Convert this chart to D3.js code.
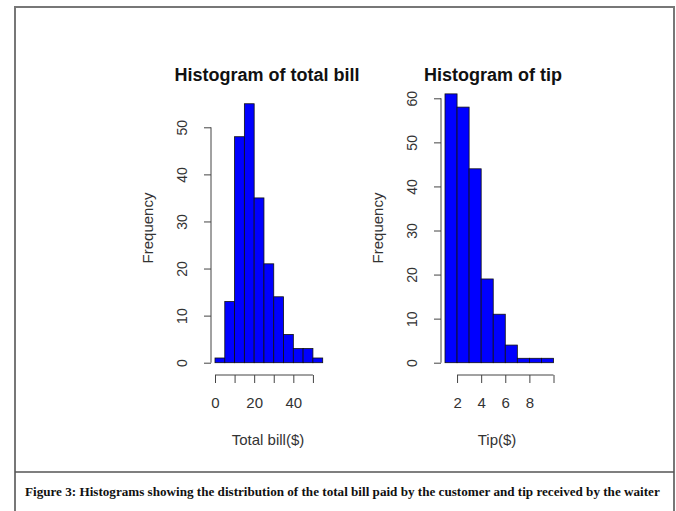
<!DOCTYPE html>
<html>
<head>
<meta charset="utf-8">
<script src="https://cdn.jsdelivr.net/npm/d3@7"></script>
<style>
  body { margin: 0; background: #fff; }
  svg { display: block; }
</style>
</head>
<body>
<svg id="fig" width="676" height="511"></svg>
<script>
// total bill histogram (bins of 5 from 0 to 55)
var billBreaks = [0, 5, 10, 15, 20, 25, 30, 35, 40, 45, 50, 55];
var billCounts = [1, 13, 48, 55, 35, 21, 14, 6, 3, 3, 1];
var billXTicks = [0, 10, 20, 30, 40, 50];
var billXLabels = ['0', '', '20', '', '40', ''];
var billYTicks = [0, 10, 20, 30, 40, 50];

// tip histogram (bins of 1 from 1 to 10)
var tipBreaks = [1, 2, 3, 4, 5, 6, 7, 8, 9, 10];
var tipCounts = [61, 58, 44, 19, 11, 4, 1, 1, 1];
var tipXTicks = [2, 4, 6, 8, 10];
var tipXLabels = ['2', '4', '6', '8', ''];
var tipYTicks = [0, 10, 20, 30, 40, 50, 60];

var titles = ['Histogram of total bill', 'Histogram of tip'];
var xTitles = ['Total bill($)', 'Tip($)'];
var caption = 'Figure 3: Histograms showing the distribution of the total bill paid by the customer and tip received by the waiter';

var svg = d3.select('#fig');
var axisColor = '#444';
var textColor = '#333';
var sans = 'Liberation Sans, Arial, sans-serif';

// frame round the figure
svg.append('path')
    .attr('d', 'M15,511 L15,7 L674,7 L674,511')
    .attr('fill', 'none')
    .attr('stroke', '#777')
    .attr('stroke-width', 2);

svg.append('line')
    .attr('x1', 15).attr('x2', 674)
    .attr('y1', 472).attr('y2', 472)
    .attr('stroke', '#555')
    .attr('stroke-width', 1.5);

var cap = svg.append('text')
    .attr('x', 25).attr('y', 496)
    .style('font-family', 'Liberation Serif, Times New Roman, serif')
    .style('font-weight', 'bold')
    .style('font-size', '14px')
    .attr('fill', '#111')
    .text(caption);

// I fit the caption to the width it has in the figure
var capWidth = 635;
var natural = cap.node().getComputedTextLength();
if (natural > capWidth) {
    cap.style('font-size', (14 * capWidth / natural).toFixed(2) + 'px');
} else {
    cap.attr('textLength', capWidth).attr('lengthAdjust', 'spacing');
}

var drawHist = function (opts) {

    var g = svg.append('g');
    var x = d3.scaleLinear().domain(opts.xDomain).range(opts.xRange);
    var y = d3.scaleLinear().domain(opts.yDomain).range([362.7, opts.yTop]);

    // I build bins from the breaks and counts
    var bins = opts.counts.map(function (c, i) {
        return { x0: opts.breaks[i], x1: opts.breaks[i + 1], n: c };
    });

    g.selectAll('rect.bar')
        .data(bins)
        .enter().append('rect')
        .attr('class', 'bar')
        .attr('x', function (d) { return x(d.x0); })
        .attr('width', function (d) { return x(d.x1) - x(d.x0); })
        .attr('y', function (d) { return y(d.n); })
        .attr('height', function (d) { return y(0) - y(d.n); })
        .attr('fill', '#0000ff')
        .attr('stroke', '#111')
        .attr('stroke-width', 0.8);

    // x axis, R style: line spans first to last tick
    var xAxis = d3.axisBottom(x)
        .tickValues(opts.xTicks)
        .tickSize(8)
        .tickSizeOuter(0)
        .tickFormat(function (d, i) { return opts.xLabels[i]; });

    var gx = g.append('g')
        .attr('transform', 'translate(0,375)')
        .call(xAxis);
    gx.select('.domain').remove();
    gx.append('line')
        .attr('x1', x(opts.xTicks[0]))
        .attr('x2', x(opts.xTicks[opts.xTicks.length - 1]))
        .attr('stroke', axisColor);
    gx.selectAll('.tick line').attr('stroke', axisColor);
    gx.selectAll('.tick text')
        .attr('y', 22)
        .attr('fill', textColor)
        .style('font-family', sans)
        .style('font-size', '15px');

    // y axis with rotated labels
    var yAxis = d3.axisLeft(y)
        .tickValues(opts.yTicks)
        .tickSize(7)
        .tickSizeOuter(0);

    var gy = g.append('g')
        .attr('transform', 'translate(' + opts.yAxisX + ',0)')
        .call(yAxis);
    gy.select('.domain').remove();
    gy.append('line')
        .attr('y1', y(opts.yTicks[0]))
        .attr('y2', y(opts.yTicks[opts.yTicks.length - 1]))
        .attr('stroke', axisColor);
    gy.selectAll('.tick line').attr('stroke', axisColor);
    gy.selectAll('.tick text')
        .attr('x', 0)
        .attr('dy', null)
        .attr('text-anchor', 'middle')
        .attr('dominant-baseline', 'central')
        .attr('transform', 'translate(-29,0) rotate(-90)')
        .attr('fill', textColor)
        .style('font-family', sans)
        .style('font-size', '14px');

    g.append('text')
        .attr('x', opts.titleX).attr('y', 81)
        .attr('text-anchor', 'middle')
        .style('font-family', sans)
        .style('font-weight', 'bold')
        .style('font-size', '18px')
        .attr('fill', '#111')
        .text(opts.title);

    g.append('text')
        .attr('x', opts.xTitleX).attr('y', 445)
        .attr('text-anchor', 'middle')
        .style('font-family', sans)
        .style('font-size', '15px')
        .attr('fill', textColor)
        .text(opts.xTitle);

    g.append('text')
        .attr('transform', 'translate(' + (opts.yAxisX - 58) + ',228) rotate(-90)')
        .attr('text-anchor', 'middle')
        .style('font-family', sans)
        .style('font-size', '15px')
        .attr('fill', textColor)
        .text('Frequency');
};

drawHist({
    breaks: billBreaks, counts: billCounts,
    xTicks: billXTicks, xLabels: billXLabels, yTicks: billYTicks,
    xDomain: [0, 55], xRange: [215, 322.7],
    yDomain: [0, 50], yTop: 127.3, yAxisX: 211,
    title: titles[0], titleX: 267, xTitle: xTitles[0], xTitleX: 268
});

drawHist({
    breaks: tipBreaks, counts: tipCounts,
    xTicks: tipXTicks, xLabels: tipXLabels, yTicks: tipYTicks,
    xDomain: [1, 10], xRange: [445, 553.5],
    yDomain: [0, 60], yTop: 98.3, yAxisX: 441,
    title: titles[1], titleX: 493, xTitle: xTitles[1], xTitleX: 497
});
</script>
</body>
</html>
